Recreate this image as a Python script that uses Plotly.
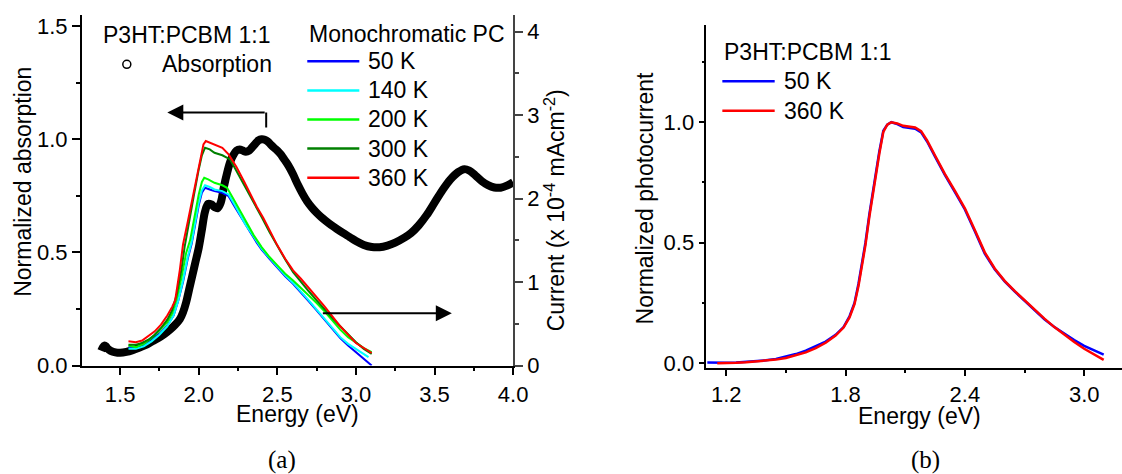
import plotly.graph_objects as go

# ---------------- data ----------------
# Panel (a): absorption (left axis, normalized)
abs_E = [1.380, 1.390, 1.400, 1.410, 1.420, 1.440, 1.470, 1.500, 1.540, 1.580, 1.620, 1.660,
         1.700, 1.740, 1.780, 1.820, 1.850, 1.880, 1.900, 1.920, 1.940, 1.960, 1.980, 2.000,
         2.020, 2.040, 2.060, 2.080, 2.100, 2.120, 2.140, 2.160, 2.180, 2.200, 2.220, 2.240,
         2.260, 2.280, 2.300, 2.320, 2.340, 2.360, 2.380, 2.400, 2.420, 2.440, 2.460, 2.480,
         2.500, 2.520, 2.540, 2.560, 2.580, 2.600, 2.630, 2.660, 2.690, 2.720, 2.750, 2.780,
         2.810, 2.840, 2.880, 2.920, 2.960, 3.000, 3.050, 3.100, 3.150, 3.200, 3.250, 3.300,
         3.350, 3.400, 3.450, 3.500, 3.550, 3.600, 3.650, 3.690, 3.720, 3.760, 3.800, 3.840,
         3.880, 3.920, 3.960, 4.000]
abs_val = [0.065, 0.080, 0.088, 0.085, 0.075, 0.065, 0.058, 0.056, 0.060, 0.068, 0.078, 0.090,
           0.105, 0.120, 0.138, 0.160, 0.180, 0.205, 0.235, 0.280, 0.340, 0.400, 0.460, 0.520,
           0.600, 0.680, 0.715, 0.712, 0.700, 0.695, 0.720, 0.790, 0.850, 0.900, 0.930, 0.950,
           0.955, 0.950, 0.945, 0.950, 0.965, 0.980, 0.995, 1.000, 0.998, 0.990, 0.975, 0.962,
           0.950, 0.935, 0.915, 0.895, 0.872, 0.845, 0.800, 0.760, 0.725, 0.698, 0.675, 0.655,
           0.638, 0.622, 0.603, 0.585, 0.568, 0.550, 0.533, 0.524, 0.523, 0.530, 0.543, 0.562,
           0.585, 0.620, 0.665, 0.720, 0.775, 0.822, 0.855, 0.868, 0.862, 0.840, 0.815, 0.797,
           0.787, 0.786, 0.795, 0.810]

# Panel (a): monochromatic photocurrent (right axis, x 10^-4 mA cm^-2)
pc_labels = ["50 K", "140 K", "200 K", "300 K", "360 K"]

pc50_E = [1.553, 1.60, 1.65, 1.70, 1.75, 1.80, 1.84, 1.87, 1.90, 1.93, 1.955, 1.98, 2.00, 2.02,
          2.04, 2.07, 2.10, 2.15, 2.19, 2.23, 2.27, 2.30, 2.33, 2.37, 2.40, 2.45, 2.50, 2.55,
          2.60, 2.65, 2.70, 2.75, 2.80, 2.85, 2.90, 2.95, 3.00, 3.05, 3.10]
pc50_I = [0.22, 0.21, 0.24, 0.30, 0.38, 0.48, 0.60, 0.78, 1.00, 1.28, 1.46, 1.72, 1.92, 2.07,
          2.13, 2.11, 2.09, 2.07, 2.03, 1.90, 1.77, 1.67, 1.59, 1.47, 1.39, 1.28, 1.17, 1.07,
          0.98, 0.88, 0.77, 0.66, 0.55, 0.43, 0.33, 0.24, 0.16, 0.08, 0.00]

pc140_E = [1.553, 1.60, 1.65, 1.70, 1.75, 1.80, 1.84, 1.87, 1.90, 1.93, 1.955, 1.98, 2.00, 2.02,
           2.04, 2.07, 2.10, 2.15, 2.19, 2.23, 2.27, 2.30, 2.33, 2.37, 2.40, 2.45, 2.50, 2.55,
           2.60, 2.65, 2.70, 2.75, 2.80, 2.85, 2.90, 2.95, 3.00, 3.05, 3.08]
pc140_I = [0.20, 0.20, 0.23, 0.29, 0.37, 0.47, 0.60, 0.78, 1.02, 1.30, 1.48, 1.75, 1.95, 2.10,
           2.16, 2.14, 2.11, 2.09, 2.05, 1.92, 1.78, 1.68, 1.60, 1.48, 1.40, 1.29, 1.18, 1.08,
           0.99, 0.89, 0.78, 0.67, 0.56, 0.44, 0.34, 0.26, 0.20, 0.14, 0.10]

pc200_E = [1.553, 1.60, 1.65, 1.70, 1.75, 1.80, 1.83, 1.86, 1.89, 1.92, 1.945, 1.97, 2.00, 2.02,
           2.035, 2.06, 2.10, 2.15, 2.18, 2.22, 2.26, 2.30, 2.35, 2.40, 2.45, 2.50, 2.55, 2.60,
           2.65, 2.70, 2.75, 2.80, 2.85, 2.90, 2.95, 3.00, 3.05, 3.10]
pc200_I = [0.24, 0.22, 0.26, 0.33, 0.42, 0.52, 0.62, 0.80, 1.05, 1.35, 1.50, 1.75, 2.05, 2.20,
           2.25, 2.23, 2.19, 2.16, 2.13, 2.00, 1.86, 1.73, 1.56, 1.42, 1.30, 1.20, 1.10, 1.02,
           0.93, 0.85, 0.75, 0.65, 0.54, 0.43, 0.34, 0.27, 0.21, 0.16]

pc300_E = [1.553, 1.60, 1.64, 1.68, 1.72, 1.76, 1.80, 1.83, 1.86, 1.89, 1.91, 1.94, 1.97, 2.00,
           2.02, 2.04, 2.07, 2.10, 2.15, 2.20, 2.25, 2.30, 2.35, 2.40, 2.45, 2.50, 2.55, 2.60,
           2.65, 2.70, 2.75, 2.80, 2.85, 2.90, 2.95, 3.00, 3.05, 3.10]
pc300_I = [0.25, 0.25, 0.27, 0.31, 0.37, 0.45, 0.55, 0.66, 0.85, 1.15, 1.42, 1.75, 2.05, 2.35,
           2.52, 2.61, 2.59, 2.55, 2.52, 2.47, 2.30, 2.12, 1.95, 1.78, 1.60, 1.43, 1.27, 1.12,
           1.00, 0.89, 0.78, 0.67, 0.57, 0.47, 0.37, 0.28, 0.20, 0.14]

pc360_E = [1.553, 1.60, 1.64, 1.68, 1.72, 1.76, 1.80, 1.83, 1.85, 1.88, 1.90, 1.93, 1.96, 1.99,
           2.01, 2.03, 2.045, 2.07, 2.10, 2.15, 2.19, 2.24, 2.29, 2.33, 2.37, 2.41, 2.45, 2.50,
           2.55, 2.60, 2.65, 2.70, 2.75, 2.80, 2.85, 2.90, 2.95, 3.00, 3.05, 3.10]
pc360_I = [0.29, 0.28, 0.30, 0.35, 0.41, 0.49, 0.60, 0.70, 0.78, 1.15, 1.45, 1.72, 2.00, 2.28,
           2.50, 2.65, 2.69, 2.67, 2.65, 2.61, 2.53, 2.38, 2.20, 2.04, 1.90, 1.77, 1.62, 1.44,
           1.28, 1.14, 1.04, 0.93, 0.83, 0.71, 0.59, 0.47, 0.37, 0.27, 0.21, 0.15]

# Panel (b): normalized photocurrent
b_labels = ["50 K", "360 K"]
b50_E = [1.105, 1.15, 1.20, 1.25, 1.30, 1.35, 1.40, 1.45, 1.50, 1.55, 1.60, 1.65, 1.70, 1.75,
         1.79, 1.82, 1.845, 1.865, 1.88, 1.90, 1.92, 1.945, 1.97, 1.99, 2.01, 2.03, 2.06, 2.09,
         2.12, 2.15, 2.18, 2.21, 2.25, 2.30, 2.35, 2.40, 2.45, 2.50, 2.55, 2.60, 2.65, 2.70,
         2.75, 2.80, 2.85, 2.90, 2.95, 3.00, 3.05, 3.098]
b50_V = [0.003, 0.002, 0.002, 0.003, 0.005, 0.008, 0.012, 0.018, 0.027, 0.038, 0.052, 0.070,
         0.090, 0.118, 0.150, 0.195, 0.250, 0.330, 0.400, 0.500, 0.620, 0.760, 0.880, 0.965,
         0.990, 1.000, 0.992, 0.980, 0.976, 0.973, 0.958, 0.920, 0.857, 0.780, 0.710, 0.638,
         0.548, 0.455, 0.390, 0.340, 0.298, 0.258, 0.219, 0.182, 0.150, 0.122, 0.096, 0.072,
         0.052, 0.036]
b360_E = [1.155, 1.20, 1.25, 1.30, 1.35, 1.40, 1.45, 1.50, 1.55, 1.60, 1.65, 1.70, 1.75, 1.79,
          1.82, 1.845, 1.865, 1.88, 1.90, 1.92, 1.945, 1.97, 1.99, 2.01, 2.03, 2.06, 2.09, 2.12,
          2.15, 2.18, 2.21, 2.25, 2.30, 2.35, 2.40, 2.45, 2.50, 2.55, 2.60, 2.65, 2.70, 2.75,
          2.80, 2.85, 2.90, 2.95, 3.00, 3.05, 3.098]
b360_V = [0.000, 0.000, 0.002, 0.004, 0.007, 0.010, 0.015, 0.022, 0.032, 0.045, 0.063, 0.085,
          0.115, 0.148, 0.190, 0.245, 0.320, 0.390, 0.490, 0.610, 0.750, 0.870, 0.960, 0.990,
          1.000, 0.995, 0.985, 0.980, 0.978, 0.963, 0.925, 0.862, 0.785, 0.715, 0.643, 0.553,
          0.460, 0.393, 0.342, 0.300, 0.261, 0.223, 0.185, 0.150, 0.118, 0.088, 0.060, 0.036,
          0.014]

# ---------------- styling / layout helpers ----------------
# Positions below are in reference pixels (1122 x 474); the figure canvas is sized so
# that the captured picture maps onto that grid.
REF_W, REF_H = 1122, 474
W, H = 1138, 490
FONT = "Liberation Sans, Arial, sans-serif"
SERIF = "Liberation Serif, Times New Roman, serif"
FS = 22      # tick labels
FT = 23      # other texts
pc_colors = ["#0000ff", "#00ffff", "#00ff00", "#008000", "#ff0000"]
b_colors = ["#0000ff", "#ff0000"]


def fx(p):
    return p / REF_W


def fy(p):
    return 1 - p / REF_H


fig = go.Figure()

# absorption
fig.add_trace(go.Scatter(x=abs_E, y=abs_val, mode="lines", line=dict(color="black", width=8, shape="spline"),
                         xaxis="x", yaxis="y", showlegend=False))
# photocurrent curves
pc_series = [(pc50_E, pc50_I), (pc140_E, pc140_I), (pc200_E, pc200_I), (pc300_E, pc300_I), (pc360_E, pc360_I)]
for (ex, iy), col, lab in zip(pc_series, pc_colors, pc_labels):
    fig.add_trace(go.Scatter(x=ex, y=iy, mode="lines", name=lab, line=dict(color=col, width=2),
                             xaxis="x", yaxis="y2", showlegend=False))
# panel b
for (ex, vy), col, lab in zip([(b50_E, b50_V), (b360_E, b360_V)], b_colors, b_labels):
    fig.add_trace(go.Scatter(x=ex, y=vy, mode="lines", name=lab, line=dict(color=col, width=2.5),
                             xaxis="x2", yaxis="y3", showlegend=False))

axis_common = dict(showgrid=False, zeroline=False, showline=True, linecolor="black", linewidth=1.5,
                   ticks="outside", tickcolor="black", tickwidth=1.5, ticklen=8,
                   tickfont=dict(family=FONT, size=FS, color="black"))

a_x0, a_x1, a_y0, a_y1 = 81.7, 512.7, 14, 363
b_x0, b_y0, b_y1 = 705.7, 24, 365.7
b_xmax = 1.1 + (REF_W - b_x0) / 198.7

fig.update_layout(
    width=W, height=H, margin=dict(l=0, r=0, t=0, b=0),
    paper_bgcolor="white", plot_bgcolor="rgba(0,0,0,0)",
    font=dict(family=FONT, size=FS, color="black"),
    xaxis=dict(axis_common, domain=[fx(a_x0), fx(a_x1)], range=[1.256, 4.0], anchor="y",
               tick0=0, dtick=0.5, tickformat=".1f",
               minor=dict(ticks="outside", ticklen=4, tickcolor="black", tickwidth=1.5, tick0=0, dtick=0.25)),
    yaxis=dict(axis_common, domain=[fy(a_y1), fy(a_y0)], range=[0, 1.549], anchor="x",
               tick0=0, dtick=0.5, tickformat=".1f",
               minor=dict(ticks="outside", ticklen=4, tickcolor="black", tickwidth=1.5, tick0=0, dtick=0.25)),
    yaxis2=dict(axis_common, overlaying="y", side="right", anchor="x", range=[0, 4.2],
                tick0=0, dtick=1, linecolor="#444", tickcolor="#444",
                minor=dict(ticks="outside", ticklen=4, tickcolor="#444", tickwidth=1.5, tick0=0, dtick=0.5)),
    xaxis3=dict(overlaying="x", side="top", anchor="y", range=[1.256, 4.0], showgrid=False, zeroline=False,
                showline=True, linecolor="black", linewidth=1.5, ticks="inside", ticklen=3, tickwidth=1,
                tickcolor="black", tick0=0, dtick=0.25, showticklabels=False),
    xaxis2=dict(axis_common, domain=[fx(b_x0), 1.0], range=[1.1, b_xmax], anchor="y3",
                tick0=0, dtick=0.6, tickformat=".1f", ticklen=6,
                minor=dict(ticks="outside", ticklen=3, tickcolor="black", tickwidth=1.5, tick0=0, dtick=0.3)),
    yaxis3=dict(axis_common, domain=[fy(b_y1), fy(b_y0)], range=[-0.0208, 1.403], anchor="x2",
                tick0=0, dtick=0.5, tickformat=".1f", ticklen=6,
                minor=dict(ticks="outside", ticklen=3, tickcolor="black", tickwidth=1.5, tick0=0, dtick=0.25)),
    xaxis4=dict(overlaying="x2", side="top", anchor="y3", range=[1.1, b_xmax],
                showgrid=False, zeroline=False, showline=True, linecolor="black", linewidth=1.5,
                ticks="inside", ticklen=3, tickwidth=1, tickcolor="black", tick0=0, dtick=0.3,
                showticklabels=False),
)

ann = []
shp = []


def text(xp, yp, s, anchor="left", size=FT, angle=0, family=FONT):
    ann.append(dict(x=fx(xp), y=fy(yp), xref="paper", yref="paper", text=s, showarrow=False,
                    xanchor=anchor, yanchor="middle", textangle=angle,
                    font=dict(family=family, size=size, color="black")))


# axis titles
text(23, 180, "Normalized absorption", anchor="center", angle=-90)
text(554, 208, "Current (x 10<sup>-4</sup> mAcm<sup>-2</sup>)", anchor="center", angle=-90)
text(297, 411, "Energy (eV)", anchor="center")
text(644, 197, "Normalized photocurrent", anchor="center", angle=-90)
text(919, 413, "Energy (eV)", anchor="center")
text(282, 457, "(a)", anchor="center", size=25, family=SERIF)
text(925, 457, "(b)", anchor="center", size=25, family=SERIF)

# panel a legends
text(101, 34, "P3HT:PCBM 1:1")
shp.append(dict(type="circle", xref="paper", yref="paper", x0=fx(122.7), x1=fx(130.7), y0=fy(67), y1=fy(59),
                line=dict(color="black", width=1.5)))
text(160, 63, "Absorption")
text(307, 33, "Monochromatic PC")
for i, (lab, col) in enumerate(zip(pc_labels, pc_colors)):
    yy = 60 + 29 * i
    shp.append(dict(type="line", xref="paper", yref="paper", x0=fx(307), x1=fx(359), y0=fy(yy), y1=fy(yy),
                    line=dict(color=col, width=2.5)))
    text(366, yy, lab)

# panel b legend
text(721.7, 51, "P3HT:PCBM 1:1")
for i, (lab, col) in enumerate(zip(b_labels, b_colors)):
    yy = 80 + 29.3 * i
    shp.append(dict(type="line", xref="paper", yref="paper", x0=fx(721.7), x1=fx(774), y0=fy(yy), y1=fy(yy),
                    line=dict(color=col, width=2.5)))
    text(781.7, yy, lab)

# arrows (data coordinates of panel a)
ann.append(dict(x=1.80, y=1.118, ax=2.429, ay=1.118, xref="x", yref="y", axref="x", ayref="y", text="",
                showarrow=True, arrowhead=2, arrowsize=1.6, arrowwidth=2, arrowcolor="black"))
shp.append(dict(type="line", xref="x", yref="y", x0=2.429, x1=2.429, y0=1.118, y1=1.052,
                line=dict(color="black", width=2)))
ann.append(dict(x=3.61, y=0.231, ax=2.78, ay=0.231, xref="x", yref="y", axref="x", ayref="y", text="",
                showarrow=True, arrowhead=2, arrowsize=1.6, arrowwidth=2, arrowcolor="black"))

fig.update_layout(annotations=ann, shapes=shp)
fig.write_html("out.html", config={"displayModeBar": False})
